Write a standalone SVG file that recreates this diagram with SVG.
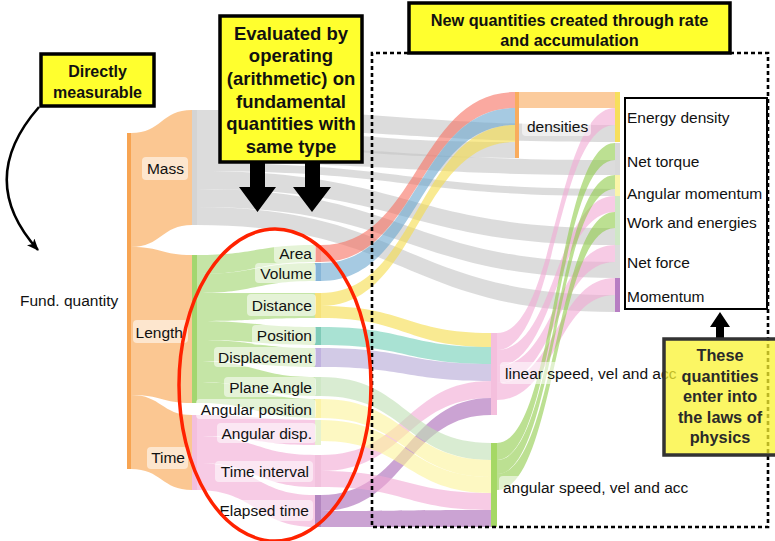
<svg xmlns="http://www.w3.org/2000/svg" width="775" height="541" viewBox="0 0 775 541">
  <defs>
    <marker id="head" viewBox="0 0 12 10" refX="11" refY="5" markerWidth="12" markerHeight="10" markerUnits="userSpaceOnUse" orient="auto">
      <path d="M0 0L12 5L0 10L3 5Z" fill="#000"/>
    </marker>
  </defs>
  <style>
    .lk { fill-opacity: 0.6; stroke: none; }
    .grey { fill: #c4c4c4; }
    .orange { fill: #f8a24a; }
    .green { fill: #9fd46a; }
    .pink { fill: #f1a9d4; }
    .salmon { fill: #f66f60; }
    .blue { fill: #6aa6cf; }
    .yellow { fill: #f5dc4a; }
    .teal { fill: #6fcfb6; }
    .lav { fill: #b4a6d6; }
    .lgreen { fill: #bfe0b4; }
    .lyellow { fill: #fbf39a; }
    .purple { fill: #a965b5; }
    .peach { fill: #f8a95a; }
    .agreen { fill: #8fcc4a; }
    .lbl { font-family: "Liberation Sans", Arial, Helvetica, sans-serif; font-size: 15.5px; fill: #111; }
    .end { text-anchor: end; }
    .bg { fill: #fff; fill-opacity: 0.55; }
    .note { font-family: "Liberation Sans", Arial, Helvetica, sans-serif; font-weight: bold; fill: #111; text-anchor: middle; }
    .soft { fill: #2a2a2a; }
    .box { fill: #ffff2e; stroke: #000; stroke-width: 3.5; }
  </style>

  <rect width="775" height="541" fill="#fff"/>

  <!-- flows -->
  <g id="links">
    <!-- fundamental quantity to Mass / Length / Time -->
    <path class="lk orange" d="M131 133C161.5 133 161.5 110 192 110L192 225C161.5 225 161.5 247 131 247Z"/>
    <path class="lk orange" d="M131 247C161.5 247 161.5 255 192 255L192 403C161.5 403 161.5 395 131 395Z"/>
    <path class="lk orange" d="M131 395C161.5 395 161.5 415 192 415L192 490C161.5 490 161.5 469 131 469Z"/>

    <!-- Mass straight to the laws-of-physics quantities -->
    <path class="lk grey" d="M197 110C406 110 406 125 615 125L615 142C406 142 406 129 197 129Z"/>
    <path class="lk grey" d="M197 129C356 129 356 142 515 142L515 158C356 158 356 146 197 146Z"/>
    <path class="lk grey" d="M197 146C406 146 406 160 615 160L615 175C406 175 406 163 197 163Z"/>
    <path class="lk grey" d="M197 163C406 163 406 189 615 189L615 196C406 196 406 171 197 171Z"/>
    <path class="lk grey" d="M197 171C406 171 406 228 615 228L615 245C406 245 406 189 197 189Z"/>
    <path class="lk grey" d="M197 189C406 189 406 262 615 262L615 278C406 278 406 207 197 207Z"/>
    <path class="lk grey" d="M197 207C406 207 406 295 615 295L615 312C406 312 406 225 197 225Z"/>

    <!-- Length to derived length quantities -->
    <path class="lk green" d="M197 255C256 255 256 245 315 245L315 262C256 262 256 274 197 274Z"/>
    <path class="lk green" d="M197 274C256 274 256 263 315 263L315 281C256 281 256 293 197 293Z"/>
    <path class="lk green" d="M197 293C256 293 256 293 315 293L315 318C256 318 256 321 197 321Z"/>
    <path class="lk green" d="M197 321C256 321 256 327 315 327L315 345C256 345 256 340 197 340Z"/>
    <path class="lk green" d="M197 340C256 340 256 348 315 348L315 367C256 367 256 361 197 361Z"/>
    <path class="lk green" d="M197 361C256 361 256 377 315 377L315 396C256 396 256 382 197 382Z"/>
    <path class="lk green" d="M197 382C256 382 256 399 315 399L315 418C256 418 256 403 197 403Z"/>

    <!-- Time to derived time quantities -->
    <path class="lk pink" d="M197 415C256 415 256 420 315 420L315 445C256 445 256 436 197 436Z"/>
    <path class="lk pink" d="M197 436C256 436 256 455 315 455L315 487C256 487 256 463 197 463Z"/>
    <path class="lk pink" d="M197 463C256 463 256 495 315 495L315 527C256 527 256 490 197 490Z"/>

    <!-- into densities -->
    <path class="lk salmon" d="M321 245C418 245 418 92 515 92L515 108C418 108 418 262 321 262Z"/>
    <path class="lk blue" d="M321 263C418 263 418 108 515 108L515 125C418 125 418 281 321 281Z"/>
    <path class="lk yellow" d="M321 293C418 293 418 125 515 125L515 142C418 142 418 306 321 306Z"/>

    <!-- into linear speed, vel and acc -->
    <path class="lk yellow" d="M321 306C406 306 406 333 491 333L491 347C406 347 406 318 321 318Z"/>
    <path class="lk teal" d="M321 327C406 327 406 347 491 347L491 364C406 364 406 345 321 345Z"/>
    <path class="lk lav" d="M321 348C406 348 406 364 491 364L491 381C406 381 406 367 321 367Z"/>
    <path class="lk pink" d="M321 455C406 455 406 381 491 381L491 398C406 398 406 471 321 471Z"/>
    <path class="lk purple" d="M321 495C406 495 406 398 491 398L491 415C406 415 406 511 321 511Z"/>

    <!-- into angular speed, vel and acc -->
    <path class="lk lgreen" d="M321 377C406 377 406 443 491 443L491 460C406 460 406 396 321 396Z"/>
    <path class="lk lyellow" d="M321 399C406 399 406 460 491 460L491 477C406 477 406 418 321 418Z"/>
    <path class="lk lyellow" d="M321 420C406 420 406 477 491 477L491 493C406 493 406 441 321 441Z"/>
    <path class="lk pink" d="M321 471C406 471 406 493 491 493L491 510C406 510 406 487 321 487Z"/>
    <path class="lk purple" d="M321 511C406 511 406 510 491 510L491 527C406 527 406 527 321 527Z"/>

    <!-- rate and accumulation to the laws-of-physics quantities -->
    <path class="lk peach" d="M519 92L615 92L615 108L519 108Z"/>
    <path class="lk pink" d="M497 333C556 333 556 108 615 108L615 125C556 125 556 350 497 350Z"/>
    <path class="lk pink" d="M497 350C556 350 556 196 615 196L615 212C556 212 556 366 497 366Z"/>
    <path class="lk pink" d="M497 366C556 366 556 245 615 245L615 262C556 262 556 383 497 383Z"/>
    <path class="lk pink" d="M497 383C556 383 556 278 615 278L615 295C556 295 556 400 497 400Z"/>
    <path class="lk agreen" d="M497 443C556 443 556 143 615 143L615 160C556 160 556 460 497 460Z"/>
    <path class="lk agreen" d="M497 460C556 460 556 175 615 175L615 189C556 189 556 474 497 474Z"/>
    <path class="lk agreen" d="M497 474C556 474 556 212 615 212L615 228C556 228 556 490 497 490Z"/>
  </g>

  <!-- nodes -->
  <g id="fund">
    <rect x="127" y="133" width="4" height="336" fill="#f7a452"/>
    <text class="lbl" x="20" y="306">Fund. quantity</text>
  </g>
  <g id="mass">
    <rect x="192" y="110" width="5" height="115" fill="#d4d4d4"/>
    <rect class="bg" x="142" y="157" width="46" height="23" rx="4"/>
    <text class="lbl end" x="184" y="173.5">Mass</text>
  </g>
  <g id="length">
    <rect x="192" y="255" width="5" height="148" fill="#a3d66f"/>
    <rect class="bg" x="133" y="320" width="55" height="23" rx="4"/>
    <text class="lbl end" x="183" y="337.5">Length</text>
  </g>
  <g id="time">
    <rect x="192" y="415" width="5" height="75" fill="#f3bfdd"/>
    <rect class="bg" x="147" y="447" width="41" height="22" rx="4"/>
    <text class="lbl end" x="185" y="462.5">Time</text>
  </g>

  <g id="area">
    <rect x="315" y="245" width="6" height="17" fill="#f69a8e"/>
    <rect class="bg" x="274" y="243" width="42" height="20" rx="4"/>
    <text class="lbl end" x="312" y="258.5">Area</text>
  </g>
  <g id="volume">
    <rect x="315" y="263" width="6" height="18" fill="#86b5d8"/>
    <rect class="bg" x="255" y="263" width="61" height="20" rx="4"/>
    <text class="lbl end" x="312" y="278.5">Volume</text>
  </g>
  <g id="distance">
    <rect x="315" y="293" width="6" height="25" fill="#f6e27a"/>
    <rect class="bg" x="247" y="294" width="69" height="22" rx="4"/>
    <text class="lbl end" x="312" y="310.5">Distance</text>
  </g>
  <g id="position">
    <rect x="315" y="327" width="6" height="18" fill="#7fcbb8"/>
    <rect class="bg" x="252" y="325" width="64" height="20" rx="4"/>
    <text class="lbl end" x="312" y="340.5">Position</text>
  </g>
  <g id="displacement">
    <rect x="315" y="348" width="6" height="19" fill="#c0b2df"/>
    <rect class="bg" x="214" y="347" width="102" height="20" rx="4"/>
    <text class="lbl end" x="312" y="362.5">Displacement</text>
  </g>
  <g id="plane-angle">
    <rect x="315" y="377" width="6" height="19" fill="#cfe8c6"/>
    <rect class="bg" x="224" y="377" width="92" height="20" rx="4"/>
    <text class="lbl end" x="312" y="392.5">Plane Angle</text>
  </g>
  <g id="angular-position">
    <rect x="315" y="399" width="6" height="19" fill="#fbf3a8"/>
    <rect class="bg" x="196" y="399" width="120" height="20" rx="4"/>
    <text class="lbl end" x="312" y="414.5">Angular position</text>
  </g>
  <g id="angular-disp">
    <rect x="315" y="420" width="6" height="25" fill="#e6f2cf"/>
    <rect class="bg" x="217" y="423" width="99" height="20" rx="4"/>
    <text class="lbl end" x="312" y="438.5">Angular disp.</text>
  </g>
  <g id="time-interval">
    <rect x="315" y="455" width="6" height="32" fill="#f1c1dd"/>
    <rect class="bg" x="215" y="461" width="98" height="21" rx="4"/>
    <text class="lbl end" x="309" y="476.5">Time interval</text>
  </g>
  <g id="elapsed-time">
    <rect x="315" y="495" width="6" height="32" fill="#b386c0"/>
    <rect class="bg" x="210" y="500" width="103" height="21" rx="4"/>
    <text class="lbl end" x="309" y="515.5">Elapsed time</text>
  </g>

  <g id="densities">
    <rect x="515" y="92" width="4" height="66" fill="#f9ac5d"/>
    <rect class="bg" x="522" y="117" width="69" height="19" rx="4"/>
    <text class="lbl" x="527" y="131.5">densities</text>
  </g>
  <g id="linear-motion">
    <rect x="491" y="333" width="6" height="82" fill="#f4bfdd"/>
    <rect class="bg" x="500" y="362" width="180" height="22" rx="4"/>
    <text class="lbl" x="505" y="378.5">linear speed, vel and acc</text>
  </g>
  <g id="angular-motion">
    <rect x="491" y="443" width="6" height="84" fill="#a5d865"/>
    <rect class="bg" x="499" y="476" width="195" height="22" rx="4"/>
    <text class="lbl" x="503" y="492.5">angular speed, vel and acc</text>
  </g>

  <g id="energy-density">
    <rect x="615" y="92" width="5" height="50" fill="#f7df5c"/>
  </g>
  <g id="net-torque">
    <rect x="615" y="143" width="5" height="32" fill="#d9d9d9"/>
  </g>
  <g id="angular-momentum">
    <rect x="615" y="175" width="5" height="21" fill="#fbf5a8"/>
  </g>
  <g id="work-energies">
    <rect x="615" y="196" width="5" height="49" fill="#cfe8c6"/>
  </g>
  <g id="net-force">
    <rect x="615" y="245" width="5" height="33" fill="#dcdcdc"/>
  </g>
  <g id="momentum">
    <rect x="615" y="278" width="5" height="34" fill="#b77ec3"/>
  </g>

  <!-- laws-of-physics list -->
  <g id="laws-list">
    <rect x="625" y="98" width="142" height="211" fill="#fff" stroke="#000" stroke-width="2"/>
    <text class="lbl" x="627" y="122.5">Energy density</text>
    <text class="lbl" x="627" y="166.5">Net torque</text>
    <text class="lbl" x="627" y="198.5">Angular momentum</text>
    <text class="lbl" x="627" y="227.5">Work and energies</text>
    <text class="lbl" x="627" y="267.5">Net force</text>
    <text class="lbl" x="627" y="301.5">Momentum</text>
  </g>

  <!-- dotted frame around rate and accumulation -->
  <path d="M408 53H372V527H768V53H730" fill="none" stroke="#000" stroke-width="2.6" stroke-dasharray="4 3"/>

  <!-- derived-by-arithmetic marker -->
  <ellipse cx="275" cy="385" rx="96" ry="156" fill="none" stroke="#ff2200" stroke-width="3.5"/>

  <!-- callouts -->
  <g id="note-measurable">
    <rect class="box" x="41" y="54" width="113" height="52"/>
    <text class="note" x="97.5" y="77" font-size="16">Directly</text>
    <text class="note" x="97.5" y="98" font-size="16">measurable</text>
    <path d="M39 107Q-25 180 38 250" fill="none" stroke="#000" stroke-width="2.5" marker-end="url(#head)"/>
  </g>

  <g id="note-arithmetic">
    <rect class="box" x="220" y="16" width="142" height="146"/>
    <g font-size="18.5">
      <text class="note" x="291" y="39.5">Evaluated by</text>
      <text class="note" x="291" y="62.2">operating</text>
      <text class="note" x="291" y="84.9">(arithmetic) on</text>
      <text class="note" x="291" y="107.6">fundamental</text>
      <text class="note" x="291" y="130.3">quantities with</text>
      <text class="note" x="291" y="153">same type</text>
    </g>
    <polygon points="250,162 265,162 265,187 276,187 257.5,212 239,187 250,187" fill="#000"/>
    <polygon points="305,162 320,162 320,187 331,187 312,212 293,187 305,187" fill="#000"/>
  </g>

  <g id="note-rate">
    <rect class="box" x="409" y="3" width="321" height="50"/>
    <text class="note" x="569.5" y="26" font-size="16.3">New quantities created through rate</text>
    <text class="note" x="569.5" y="46" font-size="16.3">and accumulation</text>
  </g>

  <g id="note-laws">
    <polygon points="720,312 730,327 724,327 724,340 716,340 716,327 710,327" fill="#000"/>
    <rect x="664" y="339" width="120" height="116" fill="#f9f330" fill-opacity="0.75" stroke="#333" stroke-width="3.5"/>
    <g font-size="16.3">
      <text class="note soft" x="720" y="361">These</text>
      <text class="note soft" x="720" y="381.5">quantities</text>
      <text class="note soft" x="720" y="402">enter into</text>
      <text class="note soft" x="720" y="422.5">the laws of</text>
      <text class="note soft" x="720" y="443">physics</text>
    </g>
  </g>
</svg>
